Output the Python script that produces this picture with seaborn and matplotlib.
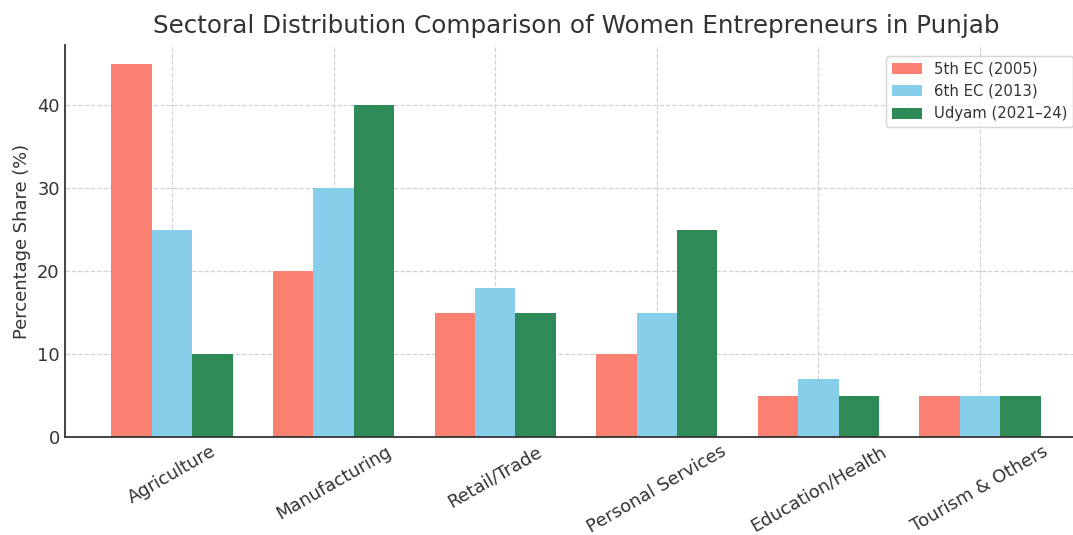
import matplotlib
matplotlib.use("Agg")
import matplotlib.pyplot as plt
import seaborn as sns
import pandas as pd

# Sector shares (%) of women-owned enterprises across three surveys
sectors = ["Agriculture", "Manufacturing", "Retail/Trade", "Personal Services",
           "Education/Health", "Tourism & Others"]
survey_names = ["5th EC (2005)", "6th EC (2013)", "Udyam (2021–24)"]
ec5_2005 = [45, 20, 15, 10, 5, 5]
ec6_2013 = [25, 30, 18, 15, 7, 5]
udyam_2021_24 = [10, 40, 15, 25, 5, 5]
bar_colors = ["#FA8072", "#87CEEB", "#2E8B57"]

df = pd.DataFrame({
    "Sector": sectors * 3,
    "Survey": [s for s in survey_names for _ in sectors],
    "Share": ec5_2005 + ec6_2013 + udyam_2021_24,
})

sns.set_style("white")
text_color = "#333333"
plt.rcParams.update({
    "text.color": text_color,
    "axes.labelcolor": text_color,
    "xtick.color": text_color,
    "ytick.color": text_color,
    "axes.edgecolor": text_color,
})

dpi = 107.3
fig = plt.figure(figsize=(1073 / dpi, 535 / dpi), dpi=dpi)
# the plotting area runs slightly past the right edge of the canvas
ax = fig.add_axes([65 / 1073, (535 - 437) / 535, (1087 - 65) / 1073, (437 - 45) / 535])

sns.barplot(data=df, x="Sector", y="Share", hue="Survey", hue_order=survey_names,
            palette=bar_colors, width=0.75, saturation=1, ax=ax, zorder=2,
            edgecolor="none")

ax.set_axisbelow(True)
ax.grid(True, linestyle="--", color="#cccccc", linewidth=0.8, alpha=0.9)
ax.set_xlim(-0.6625, 5.6625)
ax.set_ylim(0, 47.25)
ax.set_yticks([0, 10, 20, 30, 40])

sns.despine(ax=ax, top=True, right=True)
for side in ("left", "bottom"):
    ax.spines[side].set_linewidth(1.2)
    ax.spines[side].set_color(text_color)

ax.tick_params(axis="both", direction="in", length=4, labelsize=12)
plt.setp(ax.get_xticklabels(), rotation=30, ha="center")

ax.set_title("Sectoral Distribution Comparison of Women Entrepreneurs in Punjab",
             fontsize=16.5, pad=8, color=text_color)
ax.set_ylabel("Percentage Share (%)", fontsize=12)
ax.set_xlabel("")

ax.legend(title=None, fontsize=10, loc="upper right", bbox_to_anchor=(0.994, 0.992),
          handleheight=0.75, frameon=True, fancybox=True, edgecolor="#cccccc")

fig.savefig("out.png", dpi=dpi)
